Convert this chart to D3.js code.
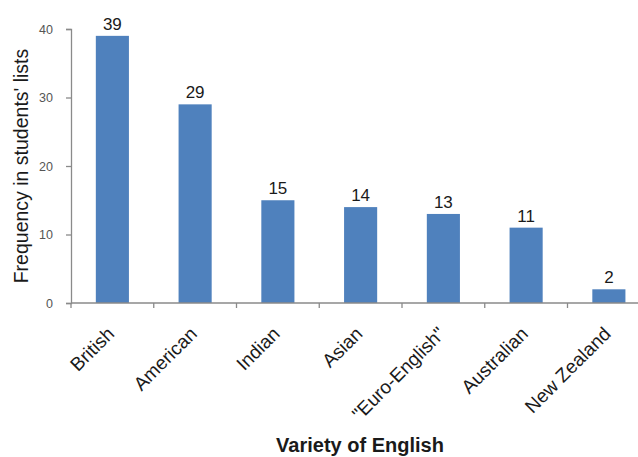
<!DOCTYPE html>
<html>
<head>
<meta charset="utf-8">
<script src="https://cdn.jsdelivr.net/npm/d3@7"></script>
<style>
  html, body { margin: 0; padding: 0; background: #fff; }
  svg { display: block; }
</style>
</head>
<body>
<svg id="chart" width="638" height="457"></svg>
<script>
// Varieties of English named in students' lists
const categories = ["British", "American", "Indian", "Asian", "\"Euro-English\"", "Australian", "New Zealand"];
const frequencies = [39, 29, 15, 14, 13, 11, 2];
const yTicks = [0, 10, 20, 30, 40];

const svg = d3.select("#chart");
const plotLeft = 71, plotBottom = 303, plotTop = 29;
const band = 82.75;

const x = d3.scaleBand()
  .domain(categories)
  .range([plotLeft, plotLeft + band * categories.length])
  .paddingInner(0.6)
  .paddingOuter(0.3);

const y = d3.scaleLinear().domain([0, 40]).range([plotBottom, plotTop]);

const axisColor = "#8a8a8a";
const font = "Arial, 'Liberation Sans', sans-serif";

// Bars
svg.append("g").selectAll("rect")
  .data(frequencies)
  .join("rect")
  .attr("x", (d, i) => x(categories[i]))
  .attr("width", x.bandwidth())
  .attr("y", d => y(d))
  .attr("height", d => y(0) - y(d))
  .attr("fill", "#4F81BD");

// Value labels
svg.append("g").selectAll("text")
  .data(frequencies)
  .join("text")
  .attr("x", (d, i) => x(categories[i]) + x.bandwidth() / 2)
  .attr("y", d => y(d) - 6)
  .attr("text-anchor", "middle")
  .attr("font-family", font)
  .attr("font-size", 17)
  .attr("fill", "#1a1a1a")
  .text(d => d);

// Y axis
const yAxis = svg.append("g")
  .attr("transform", `translate(${plotLeft},0)`)
  .call(d3.axisLeft(y).tickValues(yTicks).tickSize(5).tickPadding(13));
yAxis.select(".domain").attr("stroke", axisColor).attr("stroke-width", 1.3);
yAxis.selectAll(".tick line").attr("stroke", axisColor).attr("stroke-width", 1.3);
yAxis.selectAll(".tick text")
  .attr("font-family", font)
  .attr("font-size", 12.5)
  .attr("fill", "#555");

// X axis: boundary ticks between categories
const boundaries = d3.range(categories.length + 1).map(i => plotLeft + i * band);
svg.append("line")
  .attr("x1", plotLeft).attr("x2", 638)
  .attr("y1", plotBottom).attr("y2", plotBottom)
  .attr("stroke", axisColor).attr("stroke-width", 1.5);
svg.append("g").selectAll("line")
  .data(boundaries)
  .join("line")
  .attr("x1", d => d).attr("x2", d => d)
  .attr("y1", plotBottom).attr("y2", plotBottom + 5)
  .attr("stroke", axisColor).attr("stroke-width", 1.3);

// Category labels, rotated
svg.append("g").selectAll("text")
  .data(categories)
  .join("text")
  .attr("transform", d => `translate(${x(d) + x.bandwidth() / 2 + 3},${plotBottom + 32}) rotate(-45)`)
  .attr("text-anchor", "end")
  .attr("font-family", font)
  .attr("font-size", 19)
  .attr("fill", "#1a1a1a")
  .text(d => d);

// Axis titles
svg.append("text")
  .attr("transform", `translate(28,166) rotate(-90)`)
  .attr("text-anchor", "middle")
  .attr("font-family", font)
  .attr("font-size", 19.5)
  .attr("fill", "#1a1a1a")
  .text("Frequency in students' lists");

svg.append("text")
  .attr("x", 360)
  .attr("y", 452)
  .attr("text-anchor", "middle")
  .attr("font-family", font)
  .attr("font-size", 20)
  .attr("font-weight", "bold")
  .attr("fill", "#1a1a1a")
  .text("Variety of English");
</script>
</body>
</html>
